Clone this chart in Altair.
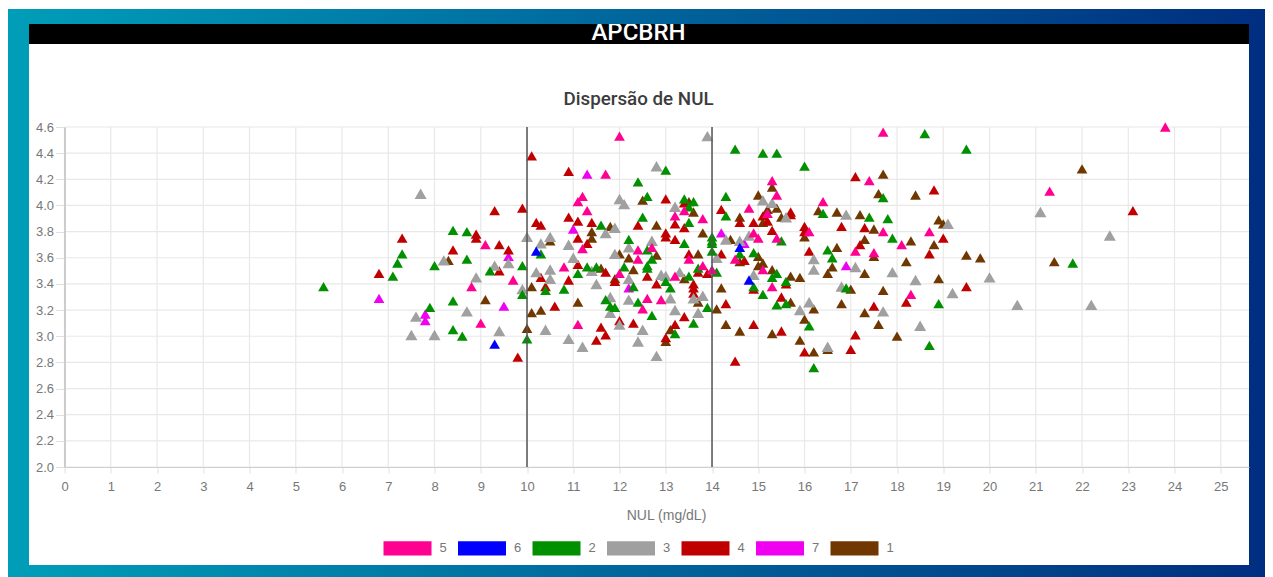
import altair as alt
import pandas as pd

# (NUL, value) pairs per series
series_5 = [(12.0,4.53),(11.7,4.24),(11.2,4.07),(11.1,4.03),(13.4,3.96),(13.2,3.92),(13.8,3.90),(14.8,3.98),(15.0,3.75),(11.3,3.96),(11.2,3.67),(12.4,3.66),(12.7,3.68),(10.8,3.53),(11.1,3.09),(12.0,3.48),(12.4,3.59),(13.5,3.59),(13.8,3.54),(14.0,3.51),(13.2,3.46),(14.5,3.59),(12.9,3.28),(12.6,3.29),(12.5,3.21),(17.7,4.56),(15.3,4.19),(15.4,4.08),(15.2,3.94),(14.9,3.79),(15.4,3.75),(16.1,3.80),(16.4,4.03),(17.4,4.19),(17.7,3.80),(17.1,3.65),(17.5,3.64),(18.1,3.70),(18.7,3.80),(15.1,3.51),(15.3,3.38),(18.3,3.32),(21.3,4.11),(23.8,4.6),(9.1,3.70),(9.7,3.43),(8.8,3.38),(9.0,3.10)]
series_6 = [(10.2,3.65),(14.6,3.68),(14.8,3.43),(9.3,2.94)]
series_7 = [(11.3,4.24),(11.0,3.82),(14.2,3.79),(14.7,3.71),(12.2,3.37),(16.9,3.54),(6.8,3.29),(7.8,3.17),(7.8,3.12),(9.6,3.61),(9.5,3.23)]
series_2 = [(14.5,4.43),(13.0,4.27),(12.4,4.18),(12.6,4.07),(13.4,4.05),(13.6,4.03),(13.5,3.99),(13.5,3.87),(14.3,4.07),(14.3,3.92),(11.6,3.85),(14.0,3.76),(14.0,3.73),(14.0,3.71),(14.0,3.65),(10.3,3.63),(12.2,3.74),(12.5,3.91),(12.6,3.66),(13.4,3.71),(14.6,3.63),(14.9,3.64),(9.9,3.54),(11.1,3.48),(10.8,3.36),(10.4,3.35),(9.9,3.32),(10.0,2.98),(12.7,3.16),(12.4,3.26),(11.7,3.28),(11.8,3.23),(11.9,3.22),(13.2,3.02),(13.6,3.10),(13.9,3.22),(14.1,3.49),(14.9,3.38),(13.7,3.52),(13.5,3.46),(13.0,3.42),(13.1,3.37),(11.5,3.53),(11.3,3.53),(12.3,3.38),(12.1,3.53),(12.7,3.59),(12.6,3.54),(12.6,3.52),(15.1,4.40),(15.4,4.40),(16.0,4.30),(17.7,4.06),(18.6,4.55),(19.5,4.43),(15.5,3.73),(16.4,3.94),(17.4,3.91),(17.8,3.90),(17.9,3.75),(16.5,3.66),(16.6,3.60),(16.9,3.37),(15.6,3.42),(15.3,3.45),(15.4,3.48),(15.1,3.32),(15.4,3.24),(15.6,3.25),(16.1,3.08),(16.2,2.76),(18.7,2.93),(18.9,3.25),(21.8,3.56),(5.6,3.38),(7.1,3.46),(7.2,3.56),(7.3,3.63),(7.9,3.22),(8.0,3.54),(8.4,3.81),(8.7,3.80),(8.7,3.59),(9.2,3.50),(8.4,3.27),(8.4,3.05),(8.6,3.00)]
series_3 = [(13.9,4.53),(12.8,4.30),(12.0,4.05),(12.1,4.01),(13.2,3.99),(10.0,3.76),(10.3,3.71),(10.5,3.76),(11.9,3.83),(11.7,3.79),(10.9,3.70),(12.2,3.68),(12.7,3.73),(14.3,3.74),(14.6,3.73),(14.8,3.77),(14.9,3.47),(15.1,4.04),(15.3,4.02),(15.6,3.91),(10.2,3.49),(10.5,3.51),(10.5,3.44),(11.0,3.60),(9.9,3.36),(10.4,3.05),(10.9,2.98),(11.2,2.92),(12.0,3.09),(12.5,3.05),(12.4,2.96),(12.8,2.85),(13.2,3.20),(13.7,3.18),(13.6,3.29),(13.8,3.31),(13.3,3.49),(12.9,3.47),(13.0,3.46),(14.1,3.60),(13.1,3.29),(12.2,3.28),(11.8,3.30),(11.8,3.18),(11.5,3.40),(11.4,3.50),(12.2,3.44),(11.9,3.63),(16.9,3.93),(19.1,3.86),(16.2,3.59),(16.2,3.51),(17.1,3.53),(17.9,3.49),(18.4,3.43),(20.0,3.45),(19.2,3.33),(17.7,3.19),(18.5,3.08),(16.5,2.92),(15.9,3.20),(16.1,3.26),(16.8,3.38),(21.1,3.95),(22.6,3.77),(20.6,3.24),(22.2,3.24),(7.7,4.09),(7.6,3.15),(7.5,3.01),(8.0,3.01),(8.2,3.58),(9.3,3.54),(9.6,3.56),(8.9,3.45),(8.7,3.19),(9.4,3.04)]
series_4 = [(10.1,4.38),(10.9,4.26),(13.0,4.05),(13.4,4.02),(13.2,3.86),(13.4,3.83),(14.2,3.97),(14.6,3.87),(14.9,3.87),(9.9,3.98),(10.2,3.87),(10.3,3.85),(10.9,3.91),(11.1,3.88),(11.4,3.87),(11.1,3.75),(11.3,3.71),(12.4,3.85),(13.0,3.79),(13.0,3.76),(13.2,3.74),(11.1,3.55),(10.3,3.45),(10.9,3.43),(10.4,3.38),(10.6,3.23),(11.5,2.97),(11.7,3.01),(11.6,3.07),(12.0,3.12),(12.3,3.10),(13.0,2.99),(13.2,3.09),(13.4,3.15),(13.6,3.40),(13.6,3.37),(13.6,3.33),(14.3,3.25),(14.9,3.09),(14.5,2.81),(14.9,3.36),(14.7,3.58),(13.5,3.63),(14.2,3.63),(13.7,3.49),(13.9,3.48),(12.6,3.46),(12.8,3.40),(11.9,3.42),(11.7,3.49),(15.1,3.92),(15.2,3.88),(15.3,3.81),(15.7,3.95),(15.7,3.93),(16.0,3.84),(16.0,3.80),(16.1,3.65),(16.8,3.84),(17.1,4.22),(18.8,4.12),(17.3,3.83),(17.2,3.70),(18.7,3.63),(19.0,3.75),(19.5,3.38),(18.2,3.26),(17.5,3.23),(17.1,3.01),(17.0,2.90),(16.0,2.88),(15.5,3.04),(15.5,3.30),(15.6,3.40),(23.1,3.96),(6.8,3.48),(7.3,3.75),(8.9,3.78),(8.9,3.75),(8.4,3.66),(9.4,3.70),(9.3,3.96),(9.6,3.66),(9.4,3.50),(9.8,2.84)]
series_1 = [(12.5,4.04),(13.5,4.03),(13.6,3.95),(13.8,3.79),(15.0,4.08),(14.6,3.91),(14.4,3.74),(10.5,3.73),(11.8,3.84),(11.4,3.80),(11.4,3.75),(12.8,3.85),(10.1,3.38),(10.1,3.18),(10.3,3.20),(11.1,3.26),(10.0,3.06),(13.0,2.96),(13.1,3.05),(13.7,3.26),(14.1,3.21),(14.3,3.09),(14.6,3.04),(14.2,3.37),(14.6,3.57),(13.7,3.63),(13.4,3.44),(11.9,3.44),(11.6,3.52),(12.3,3.51),(12.2,3.60),(12.0,3.63),(12.8,3.62),(15.3,4.14),(15.4,3.98),(15.2,3.97),(15.5,3.91),(15.1,3.87),(16.0,3.76),(16.3,3.96),(16.7,3.95),(17.2,3.93),(17.7,4.24),(17.6,4.09),(18.4,4.08),(17.5,3.82),(17.3,3.74),(18.3,3.73),(18.9,3.89),(19.0,3.86),(18.8,3.70),(16.7,3.68),(17.5,3.61),(16.6,3.53),(16.5,3.48),(17.3,3.48),(18.2,3.57),(19.5,3.62),(19.8,3.60),(18.9,3.44),(17.7,3.35),(17.0,3.36),(17.3,3.18),(17.6,3.09),(18.0,3.00),(16.5,2.90),(16.2,2.88),(15.9,2.97),(16.0,3.13),(16.2,3.21),(16.8,3.25),(15.7,3.26),(15.7,3.46),(15.9,3.45),(15.3,3.51),(15.1,3.56),(15.0,3.61),(15.0,3.54),(15.3,3.02),(21.4,3.57),(22.0,4.28),(8.3,3.58),(9.1,3.28)]

legend_order = ["5", "6", "2", "3", "4", "7", "1"]
legend_colors = ["#ff0090", "#0000ff", "#009000", "#a0a0a0", "#c00000", "#f000f0", "#703800"]
x_ticks = list(range(0, 26))
y_ticks = [2.0, 2.2, 2.4, 2.6, 2.8, 3.0, 3.2, 3.4, 3.6, 3.8, 4.0, 4.2, 4.4, 4.6]
limits = [10, 14]

# first dataset sits on top, so the table runs from the last one to the first
by_name = {"1": series_1, "7": series_7, "4": series_4, "3": series_3,
           "2": series_2, "6": series_6, "5": series_5}
rows = [{"series": k, "nul": p[0], "val": p[1]} for k, pts in by_name.items() for p in pts]
df = pd.DataFrame(rows)

PX, PY = 64.5, 127.0
W, H = 1184.5, 340.0
xs = alt.Scale(domain=[0, 25.61], nice=False, zero=False)
ys = alt.Scale(domain=[2.0, 4.6], nice=False, zero=False)
FONT = "Liberation Sans"
TEXT_GREY = "#777777"

x_axis = alt.Axis(
    values=x_ticks, format="d", grid=False, zindex=1, domainColor="#d0d0d0", domainWidth=1,
    tickColor="#e0e0e0", tickSize=6, labelPadding=7, labelColor=TEXT_GREY, labelFont=FONT,
    labelFontSize=13, labelOverlap=False, labelFlush=False, titleFont=FONT, titleFontSize=14,
    titleFontWeight="normal", titleColor=TEXT_GREY, titleX=601.5, titleY=52,
    titleBaseline="alphabetic", titleAnchor="middle", titleAlign="center")
y_axis = alt.Axis(
    values=y_ticks, format=".1f", grid=False, zindex=1, domainColor="#cccccc", domainWidth=2,
    tickColor="#e0e0e0", tickSize=9, labelPadding=2, labelColor=TEXT_GREY, labelFont=FONT,
    labelFontSize=13, labelOverlap=False, labelFlush=False)


def box(x0, x1, y0, y1, color):
    return alt.Chart(pd.DataFrame({"a": [0]})).mark_rect(color=color).encode(
        x=alt.value(x0 - PX), x2=alt.value(x1 - PX),
        y=alt.value(y0 - PY), y2=alt.value(y1 - PY))


def label(text, cx, base, size, color, weight):
    return alt.Chart(pd.DataFrame({"a": [0]})).mark_text(
        font="Roboto", fontSize=size, fontWeight=weight, color=color,
        align="center", baseline="alphabetic"
    ).encode(x=alt.value(cx - PX), y=alt.value(base - PY), text=alt.value(text))


gradient = alt.Gradient(
    gradient="linear", x1=0, y1=0, x2=1, y2=0,
    stops=[alt.GradientStop(offset=0, color="#009eb9"),
           alt.GradientStop(offset=1, color="#002e80")])

frame = box(0, 1265, 9, 577, gradient)
panel = box(29, 1249, 24, 565, "#ffffff")
header = box(29, 1249, 24, 44, "#000000")
brand = label("APCBRH", 638.5, 40, 24, "#ffffff", 500)
top_strip = box(0, 1265, 9, 24, gradient)
title = label("Dispersão de NUL", 638.5, 105, 18.8, "#3c3c3c", 500)

grid_x = alt.Chart(pd.DataFrame({"v": x_ticks})).mark_rule(color="#e8e8e8", strokeWidth=1.2).encode(
    x=alt.X("v:Q", scale=xs, axis=x_axis, title="NUL (mg/dL)"))
grid_y = alt.Chart(pd.DataFrame({"v": y_ticks})).mark_rule(color="#e8e8e8", strokeWidth=1.2).encode(
    y=alt.Y("v:Q", scale=ys, axis=y_axis, title=None))

points = alt.Chart(df).mark_point(shape="triangle-up", filled=True, opacity=1).encode(
    x=alt.X("nul:Q", scale=xs, title="NUL (mg/dL)", axis=x_axis),
    y=alt.Y("val:Q", scale=ys, title=None, axis=y_axis),
    color=alt.Color("series:N", scale=alt.Scale(domain=legend_order, range=legend_colors), legend=alt.Legend(
        title=None, orient="none", direction="horizontal", legendX=319, legendY=397,
        symbolType="M-1,-0.3H1V0.3H-1Z", symbolSize=2304, symbolStrokeWidth=0,
        labelOffset=8, columnPadding=10.5, labelFont=FONT, labelFontSize=13, labelColor=TEXT_GREY)),
    size=alt.condition("datum.series == '3'", alt.value(145), alt.value(115)),
)

lines = alt.Chart(pd.DataFrame({"v": limits})).mark_rule(color="#555555", strokeWidth=1.5).encode(
    x=alt.X("v:Q", scale=xs, axis=x_axis, title="NUL (mg/dL)"))

chart = alt.layer(frame, panel, header, brand, top_strip, title, grid_x, grid_y, points, lines).properties(
    width=W, height=H,
    padding={"left": PX - 8, "top": PY - 8, "right": 1257 - (PX - 8) - W, "bottom": 569 - (PY - 8) - H},
    autosize=alt.AutoSizeParams(type="none", contains="content"),
    background="#ffffff",
).configure_view(stroke=None)

chart.save("out.html", embed_options={"renderer": "svg", "actions": False})
